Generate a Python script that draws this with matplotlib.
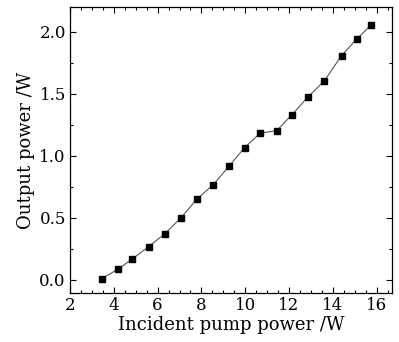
import matplotlib
matplotlib.use('Agg')
import matplotlib.pyplot as plt
from matplotlib.ticker import MultipleLocator

# Data
pump_power = [3.45, 4.18, 4.83, 5.59, 6.32, 7.05, 7.79, 8.53, 9.26,
              9.97, 10.68, 11.44, 12.14, 12.86, 13.60, 14.40, 15.10, 15.74]
output_power = [0.010, 0.086, 0.167, 0.269, 0.371, 0.498, 0.651, 0.766, 0.917,
                1.067, 1.183, 1.204, 1.333, 1.474, 1.602, 1.809, 1.944, 2.054]

x_ticks = [2, 4, 6, 8, 10, 12, 14, 16]
y_ticks = [0.0, 0.5, 1.0, 1.5, 2.0]

plt.rcParams['font.family'] = ['DejaVu Serif']

fig = plt.figure(figsize=(3.99, 3.42), dpi=100)
ax = fig.add_axes([70 / 399, 1 - 293 / 342, 322 / 399, 286 / 342])

ax.plot(pump_power, output_power, color='#555555', linewidth=0.8,
        marker='s', markersize=4, markerfacecolor='black',
        markeredgecolor='black')

ax.set_xlim(2, 16.7)
ax.set_ylim(-0.105, 2.2)
ax.set_xticks(x_ticks)
ax.set_yticks(y_ticks)
ax.set_yticklabels(['%.1f' % v for v in y_ticks])
ax.xaxis.set_minor_locator(MultipleLocator(0.5))
ax.yaxis.set_minor_locator(MultipleLocator(0.25))
ax.tick_params(which='both', direction='in', top=True, right=True,
               labelsize=12, pad=3)
ax.tick_params(which='major', length=4, width=0.8)
ax.tick_params(which='minor', length=2.5, width=0.8)
for s in ax.spines.values():
    s.set_linewidth(0.9)

ax.set_xlabel('Incident pump power /W', fontsize=13, labelpad=1)
ax.set_ylabel('Output power /W', fontsize=13, labelpad=3)

fig.savefig('out.png', dpi=100)
